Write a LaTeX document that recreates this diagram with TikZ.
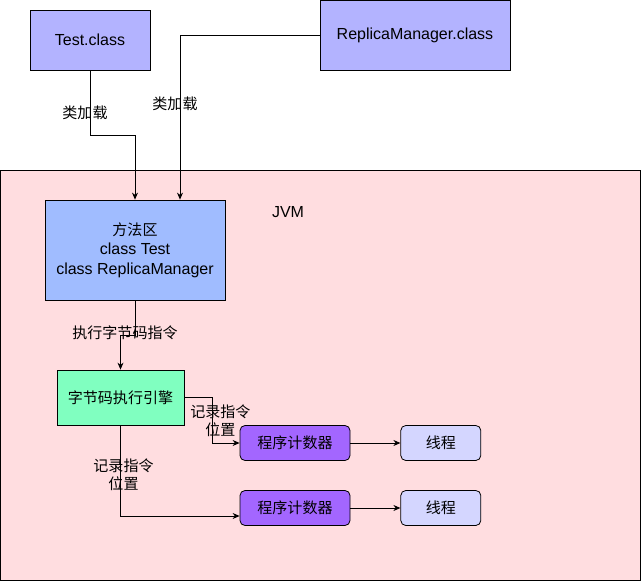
\documentclass[tikz,border=0pt]{standalone}
\usepackage{fontspec}
\setmainfont{Liberation Sans}
\newfontfamily\cjk[Scale=0.94]{Noto Sans CJK SC}
\usetikzlibrary{positioning,arrows.meta}
\definecolor{classfill}{RGB}{179,179,255}
\definecolor{jvmfill}{RGB}{255,221,224}
\definecolor{areafill}{RGB}{160,188,255}
\definecolor{enginefill}{RGB}{128,255,192}
\definecolor{pcfill}{RGB}{163,102,255}
\definecolor{threadfill}{RGB}{212,214,255}
\tikzset{
	>={Stealth[length=7pt,width=6pt]},
	every node/.style={font=\fontsize{16}{19.5}\selectfont},
	box/.style={draw, inner sep=0pt, align=center},
	classbox/.style={box, fill=classfill},
	pcbox/.style={box, fill=pcfill, rounded corners=5pt, minimum width=110pt, minimum height=35pt},
	threadbox/.style={box, fill=threadfill, rounded corners=5pt, minimum width=80pt, minimum height=35pt},
	edgelabel/.style={align=center, inner sep=0pt, font=\fontsize{16}{18}\selectfont\cjk},
}

\begin{document}
\begin{tikzpicture}[x=1pt, y=-1pt, line width=0.8pt]
        \useasboundingbox (0,0) rectangle (641,581);
        % container
        \node[box, fill=jvmfill, minimum width=640pt, minimum height=410pt] (jvm) at (320.5,375.5) {};
        \node (jvmlabel) at (288,212) {JVM};
        % class files
        \node[classbox, minimum width=120pt, minimum height=60pt] (test) at (90,40) {Test.class};
        \node[classbox, minimum width=190pt, minimum height=70pt] (replica) at (415,35) {ReplicaManager.class};
        % inside the jvm
        \node[box, fill=areafill, minimum width=180pt, minimum height=100pt] (area) at (135,250)
            {{\cjk 方法区}\\class Test\\class ReplicaManager};
        \node[box, fill=enginefill, minimum width=127pt, minimum height=55pt] (engine) at (120.5,397.5)
            {\cjk 字节码执行引擎};
        \node[pcbox] (pc1) at (295,443) {\cjk 程序计数器};
        \node[pcbox] (pc2) at (295,508) {\cjk 程序计数器};
        \node[threadbox, right=50pt of pc1] (thread1) {\cjk 线程};
        \node[threadbox, right=50pt of pc2] (thread2) {\cjk 线程};
        % connectors
        \draw[->] (test.south) -- node[edgelabel, pos=0.65, xshift=-5pt] {类加载} ++(0,65) -| (area.north);
        \draw[->] (replica.west) -| node[edgelabel, pos=0.71, xshift=-5pt] {类加载} ([xshift=45pt]area.north);
        \draw[->] (area.south) -- ++(0,35) node[edgelabel, xshift=-10pt, yshift=3pt] {执行字节码指令} -| (engine.north);
        \draw[->] (engine.east) -- ++(28,0) |- node[edgelabel, pos=0.25, xshift=8pt] {记录指令\\位置} (pc1.west);
        \draw[->] (engine.south) |- node[edgelabel, pos=0.27, xshift=3pt] {记录指令\\位置} ([yshift=-8pt]pc2.west);
        \draw[->] (pc1) -- (thread1);
        \draw[->] (pc2) -- (thread2);
    \end{tikzpicture}
\end{document}
